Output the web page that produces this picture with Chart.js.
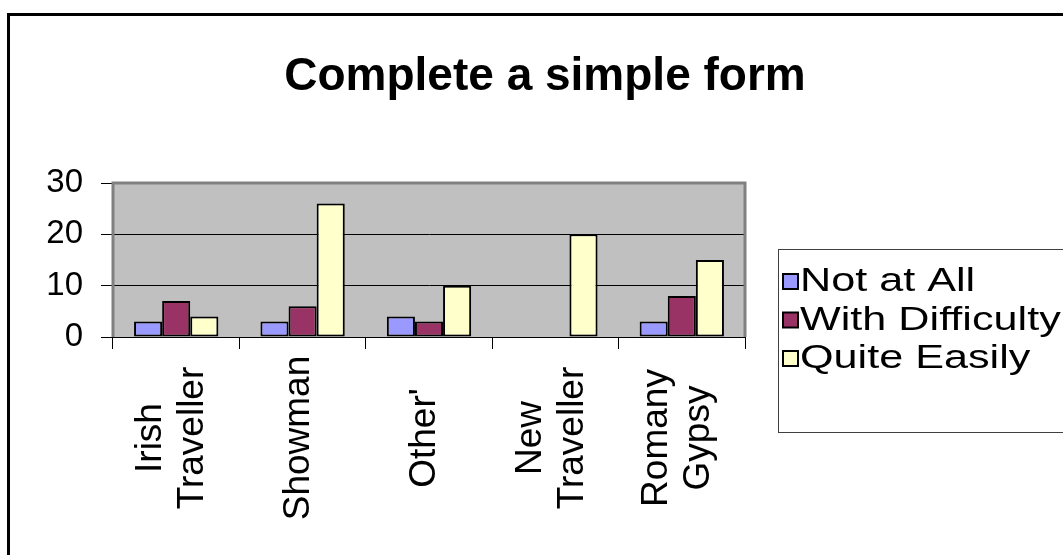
<!DOCTYPE html>
<html>
<head>
<meta charset="utf-8">
<script src="https://cdn.jsdelivr.net/npm/chart.js@4.4.1/dist/chart.umd.min.js"></script>
<style>
  html, body { margin: 0; padding: 0; background: #fff; }
  #wrap { position: relative; width: 1063px; height: 555px; }
</style>
</head>
<body>
<div id="wrap"><canvas id="formChart"></canvas></div>
<script>
const categories = [["Irish", "Traveller"], "Showman", "Other'", ["New", "Traveller"], ["Romany", "Gypsy"]];
const seriesNames = ["Not at All", "With Difficulty", "Quite Easily"];
const notAtAll = [3, 3, 4, null, 3];
const withDifficulty = [7, 6, 3, null, 8];
const quiteEasily = [4, 26, 10, 20, 15];
const yTicks = [0, 10, 20, 30];
const chartTitle = "Complete a simple form";

const FONT = "'Liberation Sans', Arial, sans-serif";
const colors = ["#9999FF", "#993366", "#FFFFCC"];

// frame, grey plot area, title, upright category labels and boxed legend
const decor = {
  id: "decor",
  beforeDraw(chart) {
    const { ctx, chartArea: a } = chart;
    ctx.save();
    ctx.fillStyle = "#fff";
    ctx.fillRect(0, 0, chart.width, chart.height);
    ctx.fillStyle = "#C0C0C0";
    ctx.fillRect(a.left, a.top, a.right - a.left, a.bottom - a.top);
    ctx.restore();
  },
  beforeDatasetsDraw(chart) {
    const { ctx, chartArea: a } = chart;
    ctx.save();
    ctx.strokeStyle = "#808080";
    ctx.lineWidth = 3;
    ctx.beginPath();
    ctx.moveTo(a.left, a.bottom);
    ctx.lineTo(a.left, a.top);
    ctx.lineTo(a.right, a.top);
    ctx.lineTo(a.right, a.bottom);
    ctx.stroke();
    ctx.strokeStyle = "#000";
    ctx.lineWidth = 1;
    ctx.beginPath();
    ctx.moveTo(a.left, a.bottom + 0.5);
    ctx.lineTo(a.right, a.bottom + 0.5);
    ctx.stroke();
    ctx.restore();
  },
  afterDraw(chart) {
    const { ctx } = chart;
    const xScale = chart.scales.x;
    ctx.save();
    // outer frame
    ctx.strokeStyle = "#000";
    ctx.lineWidth = 3;
    ctx.strokeRect(8.5, 14.5, chart.width + 10, chart.height + 10);

    // title
    ctx.fillStyle = "#000";
    ctx.font = "bold 46px " + FONT;
    ctx.textAlign = "center";
    ctx.textBaseline = "middle";
    ctx.fillText(chartTitle, 545, 77);

    // category labels, rotated, each line centred on the same height
    ctx.font = "37px " + FONT;
    chart.data.labels.forEach((label, i) => {
      const lines = Array.isArray(label) ? label : [label];
      ctx.save();
      ctx.translate(xScale.getPixelForTick(i) - 4, 438);
      ctx.rotate(-Math.PI / 2);
      lines.forEach((line, j) => {
        ctx.fillText(line, 0, (j - (lines.length - 1) / 2) * 42);
      });
      ctx.restore();
    });

    // legend
    ctx.strokeStyle = "#404040";
    ctx.lineWidth = 1;
    ctx.strokeRect(778.5, 249.5, 300, 183);
    ctx.textAlign = "left";
    chart.data.datasets.forEach((ds, i) => {
      const y = 281 + i * 38.5;
      ctx.fillStyle = ds.backgroundColor;
      ctx.fillRect(783, y - 7, 15, 15);
      ctx.lineWidth = 2;
      ctx.strokeStyle = "#000";
      ctx.strokeRect(783, y - 7, 15, 15);
      // legend text is set wide
      ctx.save();
      ctx.translate(800, y + 1);
      ctx.scale(1.27, 1);
      ctx.font = "34px " + FONT;
      ctx.fillStyle = "#000";
      ctx.fillText(ds.label, 0, 0);
      ctx.restore();
    });
    ctx.restore();
  }
};

const datasets = [notAtAll, withDifficulty, quiteEasily].map((values, i) => ({
  label: seriesNames[i],
  data: values,
  backgroundColor: colors[i],
  borderColor: "#000",
  borderWidth: 2,
  borderSkipped: false,
  categoryPercentage: 0.667,
  barPercentage: 1.0
}));

new Chart(document.getElementById("formChart"), {
  type: "bar",
  data: { labels: categories, datasets: datasets },
  options: {
    responsive: true,
    maintainAspectRatio: false,
    animation: false,
    layout: { padding: { left: 10, right: 318, top: 183, bottom: 0 } },
    plugins: {
      legend: { display: false },
      title: { display: false },
      tooltip: { enabled: false }
    },
    scales: {
      x: {
        grid: {
          offset: true,
          drawOnChartArea: false,
          color: "#000",
          tickLength: 12
        },
        border: { color: "#000" },
        ticks: { display: false, autoSkip: false },
        afterFit(scale) { scale.height = 218; }
      },
      y: {
        min: 0,
        max: 30,
        afterBuildTicks(scale) { scale.ticks = yTicks.map(v => ({ value: v })); },
        grid: { color: "#000", tickColor: "#000", tickLength: 12 },
        border: { color: "#808080" },
        ticks: {
          color: "#000",
          font: { family: FONT, size: 33 },
          padding: 18
        },
        afterFit(scale) { scale.width = 103; }
      }
    }
  },
  plugins: [decor]
});
</script>
</body>
</html>
